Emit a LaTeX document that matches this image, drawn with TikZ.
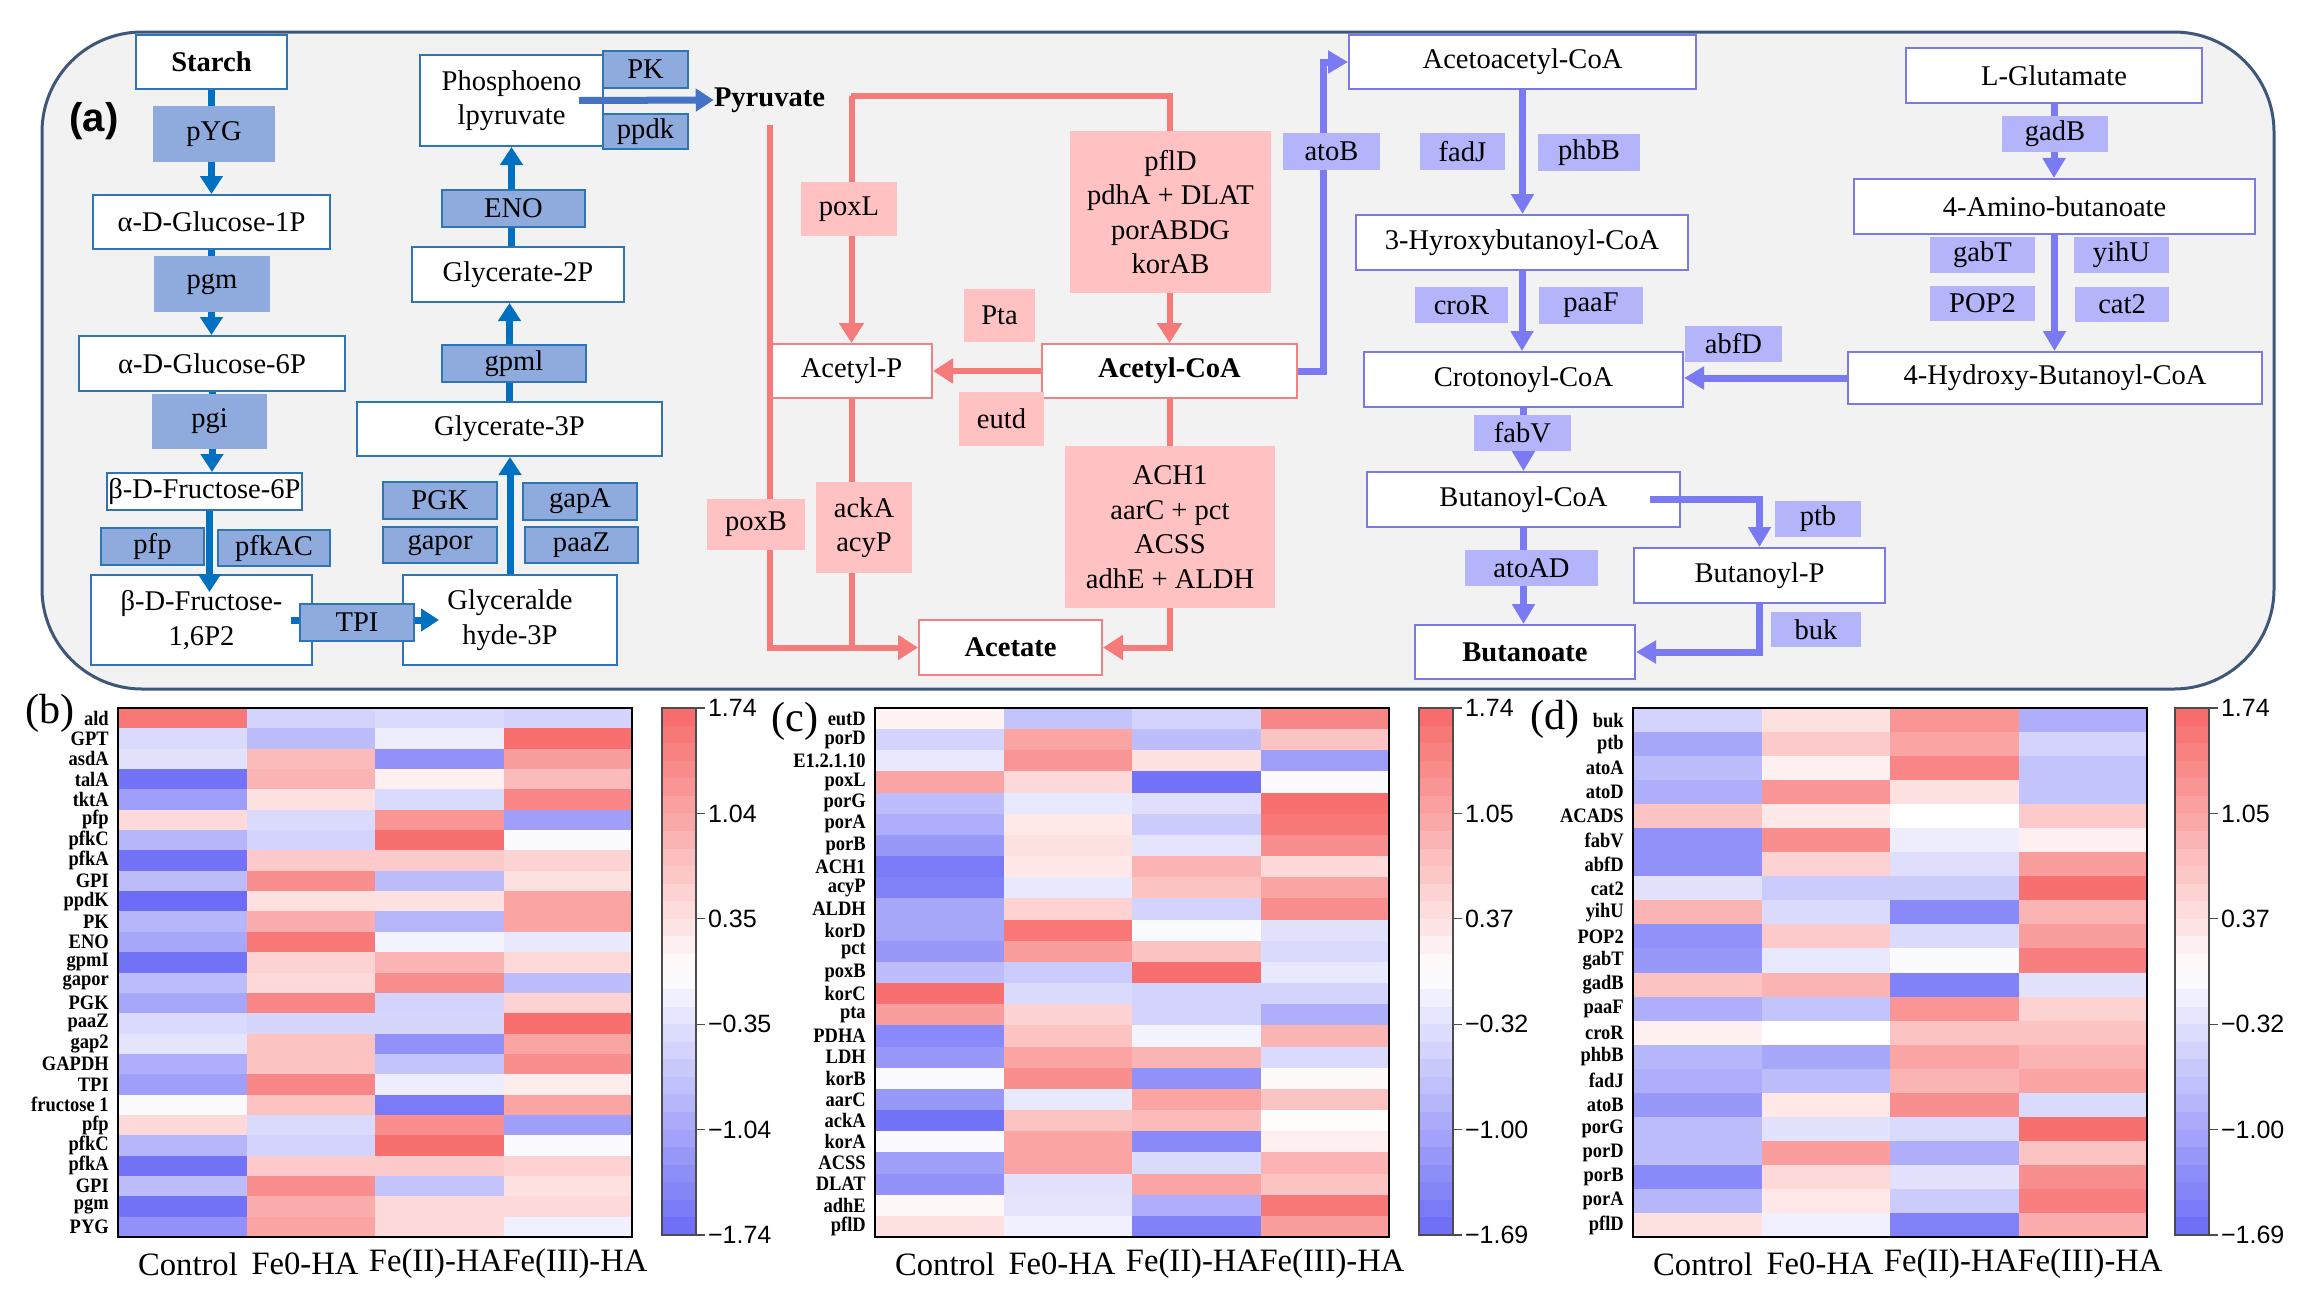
\documentclass[tikz,border=0pt]{standalone}
\usepackage{fontspec}
\setmainfont{Liberation Serif}
\setsansfont{Liberation Sans}
\usepackage{graphicx}
\usetikzlibrary{arrows.meta,calc}

\definecolor{garrc}{RGB}{0,112,192}
\definecolor{pepc}{RGB}{68,114,196}
\definecolor{gbord}{RGB}{46,117,182}
\definecolor{genzf}{RGB}{143,170,220}
\definecolor{rline}{RGB}{245,122,122}
\definecolor{renzf}{RGB}{255,193,193}
\definecolor{rbord}{RGB}{240,130,130}
\definecolor{pline}{RGB}{122,122,243}
\definecolor{penzf}{RGB}{180,180,250}
\definecolor{pbord}{RGB}{122,122,230}
\definecolor{framef}{RGB}{242,242,242}
\definecolor{framed}{RGB}{62,86,120}
\definecolor{hmred}{RGB}{247,104,104}
\definecolor{hmblue}{RGB}{108,108,247}

\newcommand{\dgfont}{\fontsize{20.3}{24.5}\selectfont}

\tikzset{
  every node/.style={font=\dgfont, align=center, inner sep=0pt},
  sz/.style 2 args={minimum width=#1*0.025cm, minimum height=#2*0.025cm},
  boldtxt/.style={font=\dgfont\bfseries},
  gmet/.style={draw=gbord, fill=white, line width=0.05cm},
  genz/.style={draw=gbord, fill=genzf, line width=0.05cm},
  genzb/.style={fill=genzf},
  rmet/.style={draw=rbord, fill=white, line width=0.05cm},
  renz/.style={fill=renzf},
  pmet/.style={draw=pbord, fill=white, line width=0.05cm},
  penz/.style={fill=penzf},
  gtip/.tip={Triangle[width=0.55cm,length=0.45cm]},
  rtip/.tip={Triangle[width=0.6cm,length=0.5cm]},
  ptip/.tip={Triangle[width=0.55cm,length=0.5cm]},
  garr/.style={draw=garrc, line width=0.175cm, -gtip},
  rlin/.style={draw=rline, line width=0.15cm},
  rarr/.style={rlin, -rtip},
  parr/.style={draw=pline, line width=0.175cm, -ptip},
  rowlab/.style={anchor=east, font=\bfseries\fontsize{14.6}{14.6}\selectfont},
  collab/.style={font=\fontsize{23.2}{24}\selectfont},
  ticklab/.style={anchor=west, xshift=0.06cm, font=\sffamily\fontsize{17.8}{18}\selectfont},
  panlab/.style={font=\fontsize{30}{30}\selectfont},
  hmframe/.style={draw=black, line width=0.06cm},
  cbframe/.style={draw=black!70, line width=0.03cm}
}

\newcommand{\hmpanel}[4]{%
  \begin{scope}[shift={(#2,708)}]
    \foreach \gn/\va/\vb/\vc/\vd [count=\ri from 0] in {#4}{
      \foreach \v [count=\ci from 0] in {\va,\vb,\vc,\vd}{
        \pgfmathtruncatemacro\absv{abs(\v)}
        \ifnum\v<0 \colorlet{cellc}{hmblue!\absv!white}\else\colorlet{cellc}{hmred!\absv!white}\fi
        \fill[cellc] (\ci*128.5,\ri*#3) rectangle ++(129,#3+0.6);
      }
      \node[rowlab] (#1r\ri) at (-9,{(\ri+0.5)*#3}) {\scalebox{0.9}[1]{\gn}};
    }
    \draw[hmframe] (0,0) rectangle (514,529);
    \foreach \cl/\cx [count=\ci] in {Control/70,Fe0-HA/187,Fe(II)-HA/318,Fe(III)-HA/457}
      \node[collab] (#1c\ci) at (\cx,556) {\cl};
  \end{scope}
}

\newcommand{\hmbar}[3]{%
  \foreach \ti in {0,...,29}{
    \pgfmathtruncatemacro\cv{round(100-(\ti+0.5)*20/3)}
    \pgfmathtruncatemacro\absv{abs(\cv)}
    \ifnum\cv<0 \colorlet{cellc}{hmblue!\absv!white}\else\colorlet{cellc}{hmred!\absv!white}\fi
    \fill[cellc] (#2,{708+\ti*527/30}) rectangle ++(34,{527/30+0.6});
  }
  \draw[cbframe] (#2,708) rectangle ++(34,527);
  \foreach \tk [count=\ti from 0] in {#3}
    \draw[cbframe] (#2+34,{708+\ti*527/5}) -- ++(9,0) node[ticklab] (#1t\ti) {\tk};
}

\begin{document}
\begin{tikzpicture}[x=0.025cm, y=-0.025cm]
\useasboundingbox (0,0) rectangle (2305,1303);
\draw[draw=framed, fill=framef, line width=0.075cm, rounded corners=2.5cm] (42,32) rectangle (2274,689);
\node[font=\sffamily\bfseries\fontsize{28.5}{30}\selectfont] (pa) at (94,121) {(a)};

% glycolysis
\node[gmet, sz={151}{54}, boldtxt] (starch) at (211.5,62) {Starch};
\node[gmet, sz={237}{54}] (glc1p) at (211.5,222) {α-D-Glucose-1P};
\node[gmet, sz={266}{55}] (glc6p) at (212,363.5) {α-D-Glucose-6P};
\node[gmet, sz={195}{37}] (f6p) at (204.5,491.5) {β-D-Fructose-6P};
\node[gmet, sz={221}{90}] (f16p) at (201.5,620) {β-D-Fructose-\\1,6P2};
\node[gmet, sz={214}{90}] (g3p) at (510,620) {Glyceralde\\hyde-3P};
\node[gmet, sz={305}{54}] (gly3p) at (509.5,429) {Glycerate-3P};
\node[gmet, sz={212}{55}] (gly2p) at (518,274.5) {Glycerate-2P};
\node[gmet, sz={183}{91}] (pep) at (511.5,100.5) {Phosphoeno\\lpyruvate};
\node[boldtxt] (pyr) at (769.5,100) {Pyruvate};

% acetate
\node[rmet, sz={161}{54}] (acetylP) at (851.5,371) {Acetyl-P};
\node[rmet, sz={255}{54}, boldtxt] (acetylCoA) at (1169.5,371) {Acetyl-CoA};
\node[rmet, sz={183}{55}, boldtxt] (acetate) at (1010.5,647.5) {Acetate};

% butanoate
\node[pmet, sz={347}{54}] (acac) at (1522.5,62) {Acetoacetyl-CoA};
\node[pmet, sz={332}{55}] (hbcoa) at (1522,242.5) {3-Hyroxybutanoyl-CoA};
\node[pmet, sz={319}{55}] (crcoa) at (1523.5,379.5) {Crotonoyl-CoA};
\node[pmet, sz={414}{52}] (hbu) at (2055,378) {4-Hydroxy-Butanoyl-CoA};
\node[pmet, sz={296}{55}] (glu) at (2054,75.5) {L-Glutamate};
\node[pmet, sz={401}{55}] (amb) at (2054.5,206.5) {4-Amino-butanoate};
\node[pmet, sz={313}{55}] (bucoa) at (1523.5,499.5) {Butanoyl-CoA};
\node[pmet, sz={251}{55}] (bup) at (1759.5,575.5) {Butanoyl-P};
\node[pmet, sz={220}{54}, boldtxt] (but) at (1525,652) {Butanoate};

\draw[garr] (starch.south) -- (glc1p.north);
\draw[garr] (glc1p.south) -- (glc1p.south |- glc6p.north);
\draw[garr] (glc6p.south) -- (glc6p.south |- f6p.north);
\draw[garr] ($(f6p.south)+(5,0)$) -- ($(f6p.south |- f16p.north)+(5,18)$);
\draw[garr] ($(f16p.east)+(-22,0)$) -- ($(g3p.west)+(37,0)$);
\draw[garr] (g3p.north) -- (g3p.north |- gly3p.south);
\draw[garr] (gly3p.north) -- (gly3p.north |- gly2p.south);
\draw[garr] (pep.south |- gly2p.north) -- (pep.south);
\draw[garr, draw=pepc] ($(pep.east)+(-25,0)$) -- (pyr.west);

\coordinate (pyrfork) at (851,96);
\draw[rarr, shorten <=0.3cm] (pyr.south) |- (acetate.west);
\draw[rlin] (acetylP.south) -- (acetylP.south |- acetate.west);
\draw[rlin, rtip-rtip] (acetylP.north) |- (pyrfork) -| (acetylCoA.north);
\draw[rarr] (acetylCoA.west) -- (acetylP.east);
\draw[rarr] (acetylCoA.south) |- (acetate.east);

\draw[parr] (acetylCoA.east) -- ++(25,0) |- (acac.west);
\draw[parr] (acac.south) -- (acac.south |- hbcoa.north);
\draw[parr] (hbcoa.south) -- (hbcoa.south |- crcoa.north);
\draw[parr] (glu.south) -- (glu.south |- amb.north);
\draw[parr] (amb.south) -- (amb.south |- hbu.north);
\draw[parr] (hbu.west) -- (hbu.west -| crcoa.east);
\draw[parr] (crcoa.south) -- (crcoa.south |- bucoa.north);
\draw[parr] ($(bucoa.east)+(-31,0)$) -| (bup.north);
\draw[parr] (bucoa.south) -- (bucoa.south |- but.north);
\draw[parr] (bup.south) |- (but.east);

% enzymes
\node[genzb, sz={122}{56}] (pYG) at (214,134) {pYG};
\node[genzb, sz={116}{56}] (pgm) at (212,284) {pgm};
\node[genzb, sz={115}{55}] (pgi) at (209.5,421.5) {pgi};
\node[genz, sz={103}{37}] (pfp) at (152.5,546.5) {pfp};
\node[genz, sz={112}{36}] (pfkAC) at (274,548) {pfkAC};
\node[genz, sz={114}{37}] (TPI) at (357,622.5) {TPI};
\node[genz, sz={114}{37}] (PGK) at (440,500.5) {PGK};
\node[genz, sz={114}{36}] (gapor) at (440,545) {gapor};
\node[genz, sz={114}{37}] (gapA) at (580,501.5) {gapA};
\node[genz, sz={113}{36}] (paaZ) at (581.5,545) {paaZ};
\node[genz, sz={144}{37}] (gpml) at (514,363.5) {gpml};
\node[genz, sz={143}{37}] (ENO) at (513.5,208.5) {ENO};
\node[genz, sz={85}{37}] (PK) at (645.5,69.5) {PK};
\node[genz, sz={85}{35}] (ppdk) at (645.5,131.5) {ppdk};

\node[renz, sz={96}{54}] (poxL) at (849,209) {poxL};
\node[renz, sz={201}{162}] (pfl) at (1170.5,212) {pflD\\pdhA + DLAT\\porABDG\\korAB};
\node[renz, sz={71}{53}] (Pta) at (999.5,315.5) {Pta};
\node[renz, sz={85}{54}] (eutd) at (1001.5,419) {eutd};
\node[renz, sz={96}{91}] (ackA) at (864,527.5) {ackA\\acyP};
\node[renz, sz={98}{51}] (poxB) at (756,524.5) {poxB};
\node[renz, sz={210}{162}] (ach) at (1170,527) {ACH1\\aarC + pct\\ACSS\\adhE + ALDH};

\node[penz, sz={97}{37}] (atoB) at (1331.5,151.5) {atoB};
\node[penz, sz={85}{37}] (fadJ) at (1462.5,151.5) {fadJ};
\node[penz, sz={102}{37}] (phbB) at (1589,152.5) {phbB};
\node[penz, sz={93}{36}] (croR) at (1461.5,305) {croR};
\node[penz, sz={104}{37}] (paaF) at (1591,305.5) {paaF};
\node[penz, sz={97}{36}] (abfD) at (1733.5,344) {abfD};
\node[penz, sz={106}{36}] (gadB) at (2055,134) {gadB};
\node[penz, sz={105}{36}] (gabT) at (1982.5,255) {gabT};
\node[penz, sz={95}{36}] (yihU) at (2121.5,255) {yihU};
\node[penz, sz={105}{35}] (POP2) at (1982.5,303.5) {POP2};
\node[penz, sz={94}{35}] (cat2) at (2122,304.5) {cat2};
\node[penz, sz={97}{36}] (fabV) at (1522.5,433) {fabV};
\node[penz, sz={86}{36}] (ptb) at (1818,519) {ptb};
\node[penz, sz={133}{36}] (atoAD) at (1531.5,568) {atoAD};
\node[penz, sz={90}{35}] (buk) at (1816,629.5) {buk};

% heatmaps
\node[panlab] (pb) at (50,713) {(b)};
\hmpanel{b}{118}{20.346}{
  ald/90/-30/-25/-30, GPT/-25/-45/-12/95, asdA/-20/45/-75/65, talA/-95/50/10/45,
  tktA/-65/20/-25/80, pfp/25/-25/70/-65, pfkC/-50/-30/95/-3, pfkA/-95/35/35/30,
  GPI/-45/75/-45/20, ppdK/-100/20/20/60, PK/-50/55/-50/60, ENO/-60/90/-8/-15,
  gpmI/-95/30/50/25, gapor/-45/25/75/-45, PGK/-60/80/-30/30, paaZ/-25/-28/-28/95,
  gap2/-18/40/-75/60, GAPDH/-55/40/-40/75, TPI/-65/80/-12/12, fructose 1/-3/40/-90/60,
  pfp/25/-25/75/-65, pfkC/-50/-30/95/-3, pfkA/-95/35/35/30, GPI/-45/75/-40/20,
  pgm/-95/55/25/25, PYG/-75/60/25/-10}
\hmbar{b}{662}{1.74,1.04,0.35,−0.35,−1.04,−1.74}

\node[panlab] (pc) at (795,721) {(c)};
\hmpanel{c}{875}{21.16}{
  eutD/8/-40/-30/80, porD/-30/60/-45/40, E1.2.1.10/-15/70/20/-65, poxL/60/25/-95/-3,
  porG/-45/-15/-22/95, porA/-55/15/-35/90, porB/-70/20/-18/75, ACH1/-90/15/50/25,
  acyP/-85/-15/40/60, ALDH/-60/30/-30/75, korD/-60/90/-3/-20, pct/-70/65/40/-25,
  poxB/-45/-35/95/-15, korC/95/-25/-30/-30, pta/65/30/-30/-55, PDHA/-80/40/-8/50,
  LDH/-70/60/50/-25, korB/-3/75/-75/3, aarC/-70/-15/60/40, ackA/-95/40/45/2,
  korA/-3/60/-80/10, ACSS/-65/60/-25/50, DLAT/-75/-20/60/40, adhE/5/-18/-55/90,
  pflD/20/-10/-85/65}
\hmbar{c}{1419}{1.74,1.05,0.37,−0.32,−1.00,−1.69}

\node[panlab] (pd) at (1555,719) {(d)};
\hmpanel{d}{1633}{24.045}{
  buk/-30/20/70/-55, ptb/-60/35/60/-30, atoA/-45/10/80/-40, atoD/-55/70/20/-40,
  ACADS/40/15/0/35, fabV/-75/75/-12/10, abfD/-75/30/-22/65, cat2/-20/-35/-35/95,
  yihU/50/-25/-80/50, POP2/-75/35/-25/65, gabT/-70/-15/-3/85, gadB/40/50/-85/-20,
  paaF/-55/-40/70/30, croR/10/0/40/40, phbB/-50/-60/60/50, fadJ/-55/-45/50/60,
  atoB/-70/15/75/-25, porG/-45/-20/-25/95, porD/-45/65/-55/40, porB/-80/25/-20/75,
  porA/-50/15/-35/85, pflD/20/-10/-85/55}
\hmbar{d}{2175}{1.74,1.05,0.37,−0.32,−1.00,−1.69}
\end{tikzpicture}
\end{document}
